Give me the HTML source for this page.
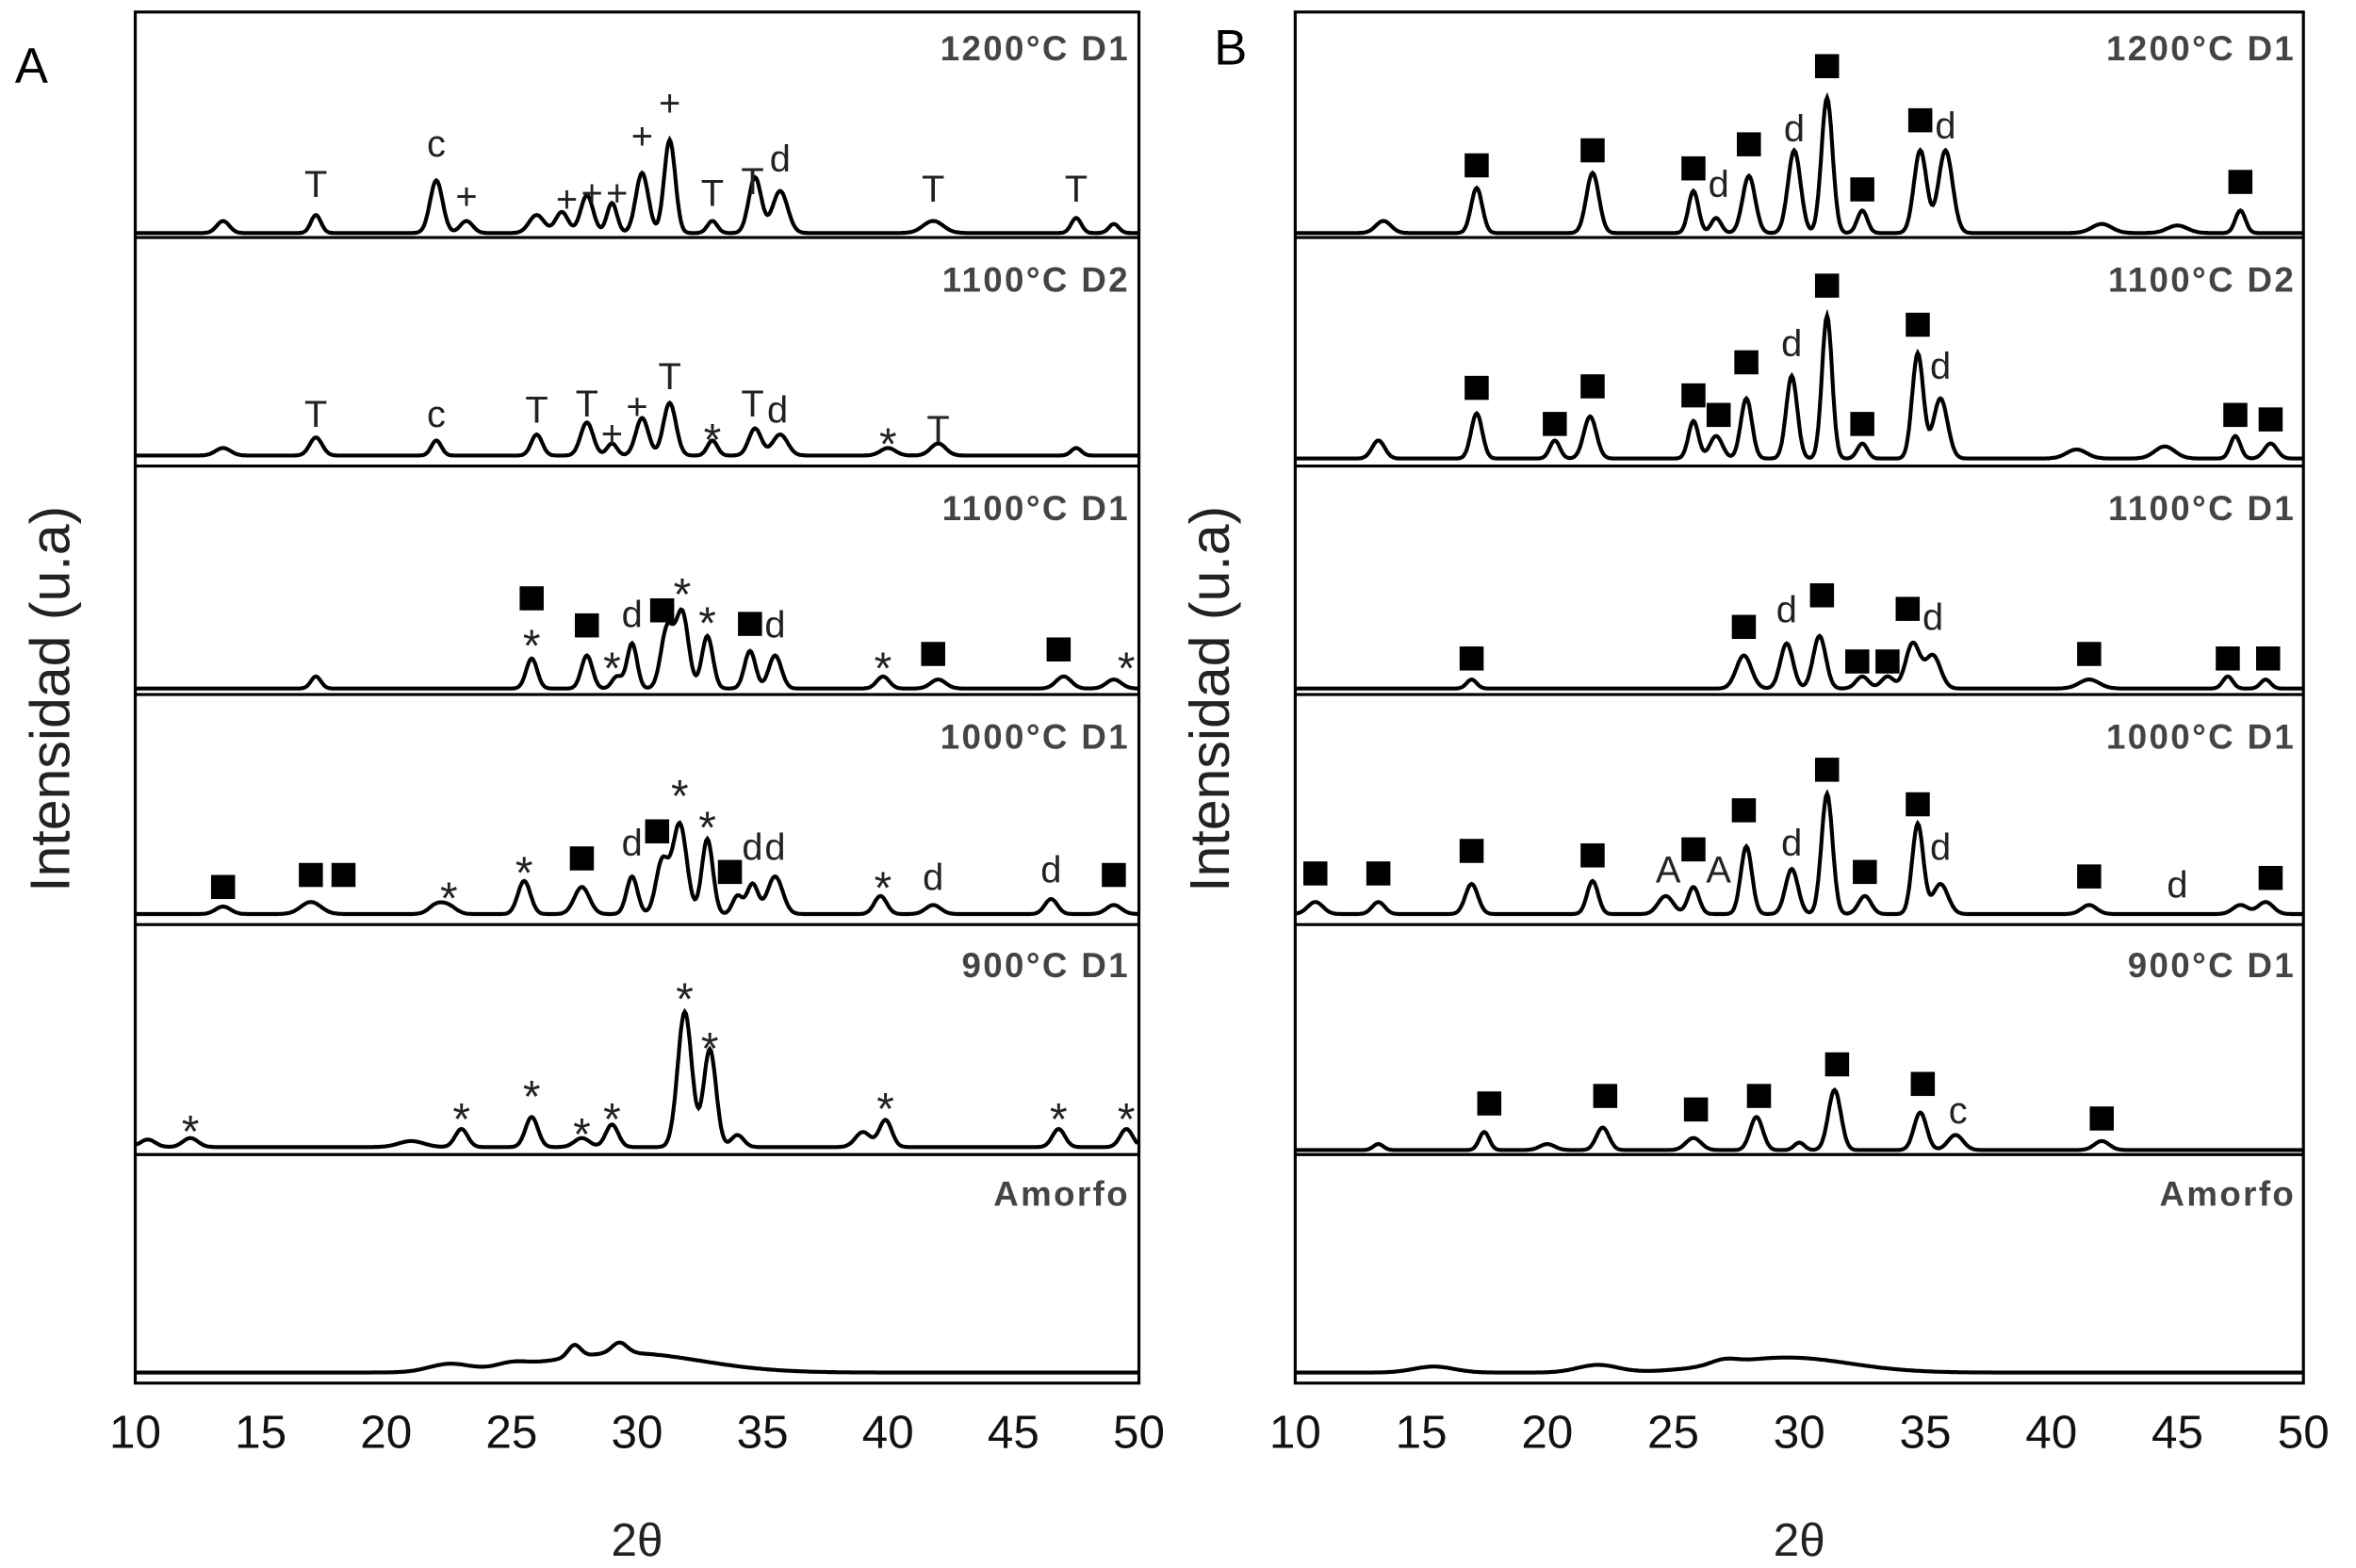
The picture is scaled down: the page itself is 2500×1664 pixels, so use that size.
<!DOCTYPE html>
<html><head><meta charset="utf-8"><style>
html,body{margin:0;padding:0;background:#fff}
svg{display:block}
text{font-family:"Liberation Sans",sans-serif}
</style></head><body>
<svg id="chart" width="2500" height="1664" viewBox="0 0 1568 1043" preserveAspectRatio="none" xmlns="http://www.w3.org/2000/svg"></svg>
<script>
// x-axis ticks
const ticks = [10,15,20,25,30,35,40,45,50];
const rowTitles = ["1200°C D1","1100°C D2","1100°C D1","1000°C D1","900°C D1","Amorfo"];
// Panel A peaks [2θ, height, width]
const A1 = [[13.5,8,.25],[17.2,12,.2],[22,35,.25],[23.2,8,.25],[26,12,.3],[27,14,.25],[28,25,.25],[29,20,.2],[30.2,40,.25],[31.3,62,.22],[33,8,.2],[34.7,37,.25],[35.7,28,.3],[41.8,8,.4],[47.5,10,.2],[49,6,.2]];
const A2 = [[13.5,5,.3],[17.2,12,.25],[22,10,.2],[26,14,.22],[28,22,.25],[29,8,.2],[30.2,25,.25],[31.3,35,.25],[33,10,.2],[34.7,18,.25],[35.7,14,.3],[40,5,.3],[42,8,.3],[47.5,5,.2]];
const A3 = [[17.2,8,.2],[25.8,20,.22],[28,22,.22],[29.2,8,.2],[29.8,30,.2],[31.2,40,.25],[31.8,50,.25],[32.8,35,.22],[34.5,25,.22],[35.5,22,.25],[39.8,8,.25],[42,6,.3],[47,8,.3],[49,6,.3]];
const A4 = [[13.5,5,.3],[17,8,.4],[22,6,.3],[22.5,5,.3],[25.5,22,.25],[27.8,18,.3],[29.8,25,.22],[31,35,.25],[31.7,60,.28],[32.8,50,.22],[34,12,.2],[34.6,20,.22],[35.5,25,.3],[39.7,12,.25],[41.8,6,.3],[46.5,10,.25],[49,6,.3]];
const A5 = [[10.5,5,.3],[12.2,6,.3],[21,4,.5],[23,12,.25],[25.8,20,.25],[27.8,6,.3],[29,15,.25],[31.9,90,.28],[32.9,65,.25],[34,8,.25],[39,10,.3],[39.9,18,.25],[46.8,12,.25],[49.5,12,.25]];
const A6 = [[29.5,13,3],[27.5,8,.25],[29.3,7,.3],[22.5,5,.8],[25,3,.6]];
// Panel B peaks
const B1 = [[13.5,8,.3],[17.2,30,.22],[21.8,40,.25],[25.8,28,.2],[26.7,10,.2],[28,38,.25],[29.8,55,.25],[31.1,90,.22],[32.5,15,.2],[34.8,55,.25],[35.8,55,.28],[42,6,.4],[45,5,.4],[47.5,15,.2]];
const B2 = [[13.3,12,.25],[17.2,30,.22],[20.3,12,.2],[21.7,28,.25],[25.8,25,.2],[26.7,15,.25],[27.9,40,.22],[29.7,55,.22],[31.1,95,.2],[32.5,10,.2],[34.7,70,.22],[35.6,40,.28],[41,6,.4],[44.5,8,.4],[47.3,15,.2],[48.7,10,.25]];
const B3 = [[17,6,.2],[27.8,22,.3],[29.5,30,.25],[30.8,35,.25],[32.5,8,.25],[33.5,8,.25],[34.5,30,.28],[35.3,22,.3],[41.5,6,.4],[47,8,.2],[48.5,6,.2]];
const B4 = [[10.8,8,.3],[13.3,8,.25],[17,20,.25],[21.8,22,.22],[24.7,12,.3],[25.8,18,.22],[27.9,45,.22],[29.7,30,.25],[31.1,80,.22],[32.6,12,.25],[34.7,60,.22],[35.6,20,.3],[41.5,6,.3],[47.5,6,.3],[48.5,8,.3]];
const B5 = [[13.3,4,.2],[17.5,12,.2],[20,4,.3],[22.2,15,.25],[25.8,8,.3],[28.3,22,.25],[30,5,.2],[31.4,40,.25],[34.8,25,.25],[36.2,10,.3],[42,6,.3]];
const B6 = [[29.5,10,2.5],[15.5,4,.8],[22,5,.8],[27,3,.5]];
// annotations [label, 2θ, y]
const annA = [
 [["T",17.2,122],["c",22,95],["+",23.2,130],["+",27.2,132],["+",28.2,128],["+",29.2,128],["+",30.2,90],["+",31.3,68],["T",33,128],["T",34.6,120],["d",35.7,105],["T",41.8,125],["T",47.5,125]],
 [["T",17.2,275],["c",22,275],["T",26,272],["T",28,268],["+",29,288],["+",30,270],["T",31.3,250],["*",33,285],["T",34.6,268],["d",35.6,272],["*",40,288],["T",42,285]],
 [["■",25.8,398],["*",25.8,422],["■",28,416],["*",29,437],["d",29.8,408],["■",31,406],["*",31.8,388],["*",32.8,407],["■",34.5,415],["d",35.5,415],["*",39.8,437],["■",41.8,435],["■",46.8,432],["*",49.5,437]],
 [["■",13.5,590],["■",17,582],["■",18.3,582],["*",22.5,590],["*",25.5,573],["■",27.8,571],["d",29.8,560],["■",30.8,553],["*",31.7,522],["*",32.8,543],["■",33.7,580],["d",34.6,563],["d",35.5,563],["*",39.8,583],["d",41.8,583],["d",46.5,578],["■",49,582]],
 [["*",12.2,745],["*",23,737],["*",25.8,722],["*",27.8,747],["*",29,737],["*",31.9,657],["*",32.9,690],["*",39.9,730],["*",46.8,737],["*",49.5,737]],
 []
];
const annB = [
 [["■",17.2,110],["■",21.8,100],["■",25.8,112],["d",26.8,122],["■",28,96],["d",29.8,85],["■",31.1,44],["■",32.5,126],["■",34.8,80],["d",35.8,83],["■",47.5,121]],
 [["■",17.2,258],["■",20.3,282],["■",21.8,257],["■",25.8,263],["■",26.8,276],["■",27.9,241],["d",29.7,228],["■",31.1,190],["■",32.5,282],["■",34.7,216],["d",35.6,243],["■",47.3,276],["■",48.7,279]],
 [["■",17,438],["■",27.8,417],["d",29.5,405],["■",30.9,396],["■",32.3,440],["■",33.5,440],["■",34.3,405],["d",35.3,410],["■",41.5,435],["■",47,438],["■",48.6,438]],
 [["■",10.8,581],["■",13.3,581],["■",17,566],["■",21.8,569],["A",24.8,578],["■",25.8,565],["A",26.8,578],["■",27.8,539],["d",29.7,560],["■",31.1,512],["■",32.6,580],["■",34.7,535],["d",35.6,563],["■",41.5,583],["d",45,588],["■",48.7,584]],
 [["■",17.7,734],["■",22.3,729],["■",25.9,738],["■",28.4,729],["■",31.5,708],["■",34.9,721],["c",36.3,738],["■",42,744]],
 []
];
const NS="http://www.w3.org/2000/svg";
const svg=document.getElementById('chart');
function mk(tag,attrs,txt){const e=document.createElementNS(NS,tag);for(const k in attrs)e.setAttribute(k,attrs[k]);if(txt!==undefined)e.textContent=txt;svg.appendChild(e);return e;}
const rowEdges=[8,158,310,462,615,768,920];
const panels=[
 {id:'a',x0:90,x1:758,peaks:[A1,A2,A3,A4,A5,A6],ann:annA,titleX:752,titleY:[40,194,346,498,650,802],base:[155,303,458,608,763,913]},
 {id:'b',x0:862,x1:1533,peaks:[B1,B2,B3,B4,B5,B6],ann:annB,titleX:1528,titleY:[40,194,346,498,650,802],base:[155,305,458,608,765,913]}
];
panels.forEach(p=>{
 const xs=t=>p.x0+(t-10)*(p.x1-p.x0)/40;
 let r=mk('rect',{x:p.x0,y:8,width:p.x1-p.x0,height:912,fill:'none',stroke:'#000','stroke-width':2});
 
 
 for(let i=1;i<6;i++){let l=mk('line',{x1:p.x0,x2:p.x1,y1:rowEdges[i],y2:rowEdges[i],stroke:'#000','stroke-width':2});
  
  }
 ticks.forEach(t=>{let e=mk('text',{x:xs(t),y:963,'font-size':31,'text-anchor':'middle',fill:'#111'},t);
  
  });
 p.peaks.forEach((pk,i)=>{
  let d='';
  for(let t=10.05;t<=49.95;t+=0.05){let v=0;pk.forEach(q=>{v+=q[1]*Math.exp(-((t-q[0])**2)/(2*q[2]*q[2]));});
   d+=(d?'L':'M')+xs(t).toFixed(1)+','+(p.base[i]-v).toFixed(1);}
  let path=mk('path',{d:d,fill:'none',stroke:'#000','stroke-width':2.6});
  
  
  let tt=mk('text',{x:p.titleX,y:p.titleY[i],'font-size':23,'font-weight':'bold','text-anchor':'end',fill:'#444','letter-spacing':1.5},rowTitles[i]);
  
  
  p.ann[i].forEach(a=>{
   if(a[0]==='■'){let s=mk('rect',{x:xs(a[1])-8,y:a[2]-8,width:16,height:16,fill:'#000'});
    
    }
   else{const fs=a[0]==='*'?30:25;let e=mk('text',{x:xs(a[1]),y:a[2]+(a[0]==='*'?18:9),'font-size':fs,'text-anchor':'middle',fill:'#222'},a[0]);
    
    }
  });
 });
 let xt=mk('text',{x:(p.x0+p.x1)/2,y:1035,'font-size':31,'text-anchor':'middle',fill:'#222','font-family':'Liberation Serif, serif'},'2θ');
 
 
});
let y1=mk('text',{x:0,y:0,'font-size':37,'text-anchor':'middle',fill:'#222',transform:'translate(46,465) rotate(-90)'},'Intensidad (u.a)');


let y2=mk('text',{x:0,y:0,'font-size':37,'text-anchor':'middle',fill:'#222',transform:'translate(818,465) rotate(-90)'},'Intensidad (u.a)');


let la=mk('text',{x:10,y:55,'font-size':33,fill:'#000'},'A');


let lb=mk('text',{x:808,y:43,'font-size':33,fill:'#000'},'B');


</script>
</body></html>
